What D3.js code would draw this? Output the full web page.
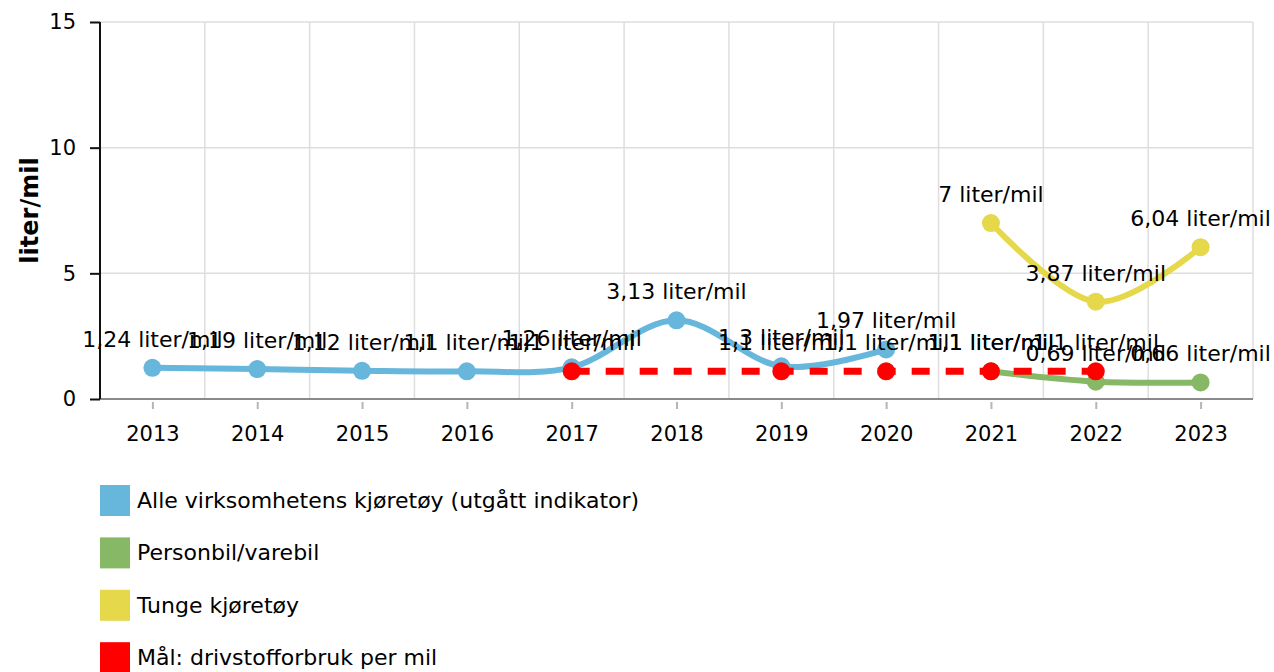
<meta charset="utf-8">
<html>
<head>
<style>
  body { margin: 0; background: #fff; }
  text { font-family: "DejaVu Sans", Verdana, sans-serif; fill: #000; }
  .tick text { font-size: 21px; }
  .lbl { font-size: 22px; text-anchor: middle; }
  .legtext { font-size: 22px; }
</style>
</head>
<body>
<svg width="1274" height="672"></svg>

<script src="https://d3js.org/d3.v7.min.js"></script>
<script>

// data
var years = [2013, 2014, 2015, 2016, 2017, 2018, 2019, 2020, 2021, 2022, 2023];
var yTicks = [0, 5, 10, 15];

var alleYears  = [2013, 2014, 2015, 2016, 2017, 2018, 2019, 2020];
var alleValues = [1.24, 1.19, 1.12, 1.1, 1.26, 3.13, 1.3, 1.97];

var personYears  = [2021, 2022, 2023];
var personValues = [1.1, 0.69, 0.66];

var tungeYears  = [2021, 2022, 2023];
var tungeValues = [7, 3.87, 6.04];

var maalYears  = [2017, 2019, 2020, 2021, 2022];
var maalValues = [1.1, 1.1, 1.1, 1.1, 1.1];

var seriesNames  = ["Alle virksomhetens kjøretøy (utgått indikator)", "Personbil/varebil", "Tunge kjøretøy", "Mål: drivstofforbruk per mil"];
var seriesColors = ["#67b6dc", "#86b865", "#e5d84a", "#ff0000"];

function pairs(xs, vs) {
  return xs.map(function(d, i) { return {year: d, value: vs[i]}; });
}

var series = [
  {name: seriesNames[0], color: seriesColors[0], data: pairs(alleYears, alleValues), spline: true},
  {name: seriesNames[1], color: seriesColors[1], data: pairs(personYears, personValues), spline: true},
  {name: seriesNames[2], color: seriesColors[2], data: pairs(tungeYears, tungeValues), spline: true},
  {name: seriesNames[3], color: seriesColors[3], data: pairs(maalYears, maalValues), spline: false, dash: "18,16"}
];

var svg = d3.select("svg");
var pLeft = 100, pRight = 1253, pTop = 22, pBottom = 399;

var x = d3.scaleBand().domain(years).range([pLeft, pRight]).padding(0);
var cx = function(d) { return x(d) + x.bandwidth() / 2; };
var y = d3.scaleLinear().domain([0, 15]).range([pBottom, pTop]);

// grid
var grid = svg.append("g");
grid.selectAll(".hg").data(yTicks.slice(1)).enter().append("line")
  .attr("x1", pLeft).attr("x2", pRight)
  .attr("y1", function(d) { return y(d); }).attr("y2", function(d) { return y(d); })
  .attr("stroke", "#dedede").attr("stroke-width", 1.5);
grid.selectAll(".vg").data(years.slice(1).concat(["end"])).enter().append("line")
  .attr("x1", function(d) { return d === "end" ? pRight : x(d); })
  .attr("x2", function(d) { return d === "end" ? pRight : x(d); })
  .attr("y1", pTop).attr("y2", pBottom)
  .attr("stroke", "#dedede").attr("stroke-width", 1.5);

// x axis
var xAxis = svg.append("g")
  .attr("transform", "translate(0," + pBottom + ")")
  .call(d3.axisBottom(d3.scalePoint().domain(years).range([cx(2013), cx(2023)]))
    .tickSize(10).tickPadding(17));
xAxis.select(".domain").attr("d", "M" + pLeft + ",0H" + pRight).attr("stroke", "#8a8a8a").attr("stroke-width", 2);
xAxis.selectAll(".tick line").attr("stroke", "#b5b5b5").attr("stroke-width", 2).attr("y1", 3);

// y axis
var yAxis = svg.append("g")
  .attr("transform", "translate(" + pLeft + ",0)")
  .call(d3.axisLeft(y).tickValues(yTicks).tickSize(10).tickPadding(14));
yAxis.select(".domain").attr("d", "M0," + pTop + "V" + pBottom).attr("stroke", "#111").attr("stroke-width", 2);
yAxis.selectAll(".tick line").attr("stroke", "#111").attr("stroke-width", 2);

svg.append("text")
  .attr("transform", "translate(38," + ((pTop + pBottom) / 2) + ") rotate(-90)")
  .attr("text-anchor", "middle")
  .style("font-size", "24px")
  .style("font-weight", "bold")
  .text("liter/mil");

// lines and markers
var plot = svg.append("g");
series.forEach(function(s) {
  var line = d3.line()
    .x(function(d) { return cx(d.year); })
    .y(function(d) { return y(d.value); })
    .curve(s.spline ? d3.curveCardinal.tension(0) : d3.curveLinear);
  var g = plot.append("g");
  g.append("path")
    .datum(s.data)
    .attr("d", line)
    .attr("fill", "none")
    .attr("stroke", s.color)
    .attr("stroke-width", s.dash ? 7 : 6)
    .attr("stroke-dasharray", s.dash || null)
    .attr("stroke-linecap", "butt");
  g.selectAll("circle").data(s.data).enter().append("circle")
    .attr("cx", function(d) { return cx(d.year); })
    .attr("cy", function(d) { return y(d.value); })
    .attr("r", 9)
    .attr("fill", s.color);
});

// data labels
var labels = svg.append("g");
series.forEach(function(s) {
  labels.selectAll(null).data(s.data).enter().append("text")
    .attr("class", "lbl")
    .attr("x", function(d) { return cx(d.year); })
    .attr("y", function(d) { return y(d.value) - 21; })
    .text(function(d) { return String(d.value).replace(".", ",") + " liter/mil"; });
});

// legend
var legend = svg.append("g");
var leg = legend.selectAll("g").data(series).enter().append("g")
  .attr("transform", function(d, i) { return "translate(100," + (500 + i * 52.4) + ")"; });
leg.append("rect")
  .attr("x", 0).attr("y", -15)
  .attr("width", 30).attr("height", 31)
  .attr("fill", function(d) { return d.color; });
leg.append("text")
  .attr("class", "legtext")
  .attr("x", 37).attr("y", 0)
  .attr("dy", "0.35em")
  .text(function(d) { return d.name; });

</script>
</body>
</html>
